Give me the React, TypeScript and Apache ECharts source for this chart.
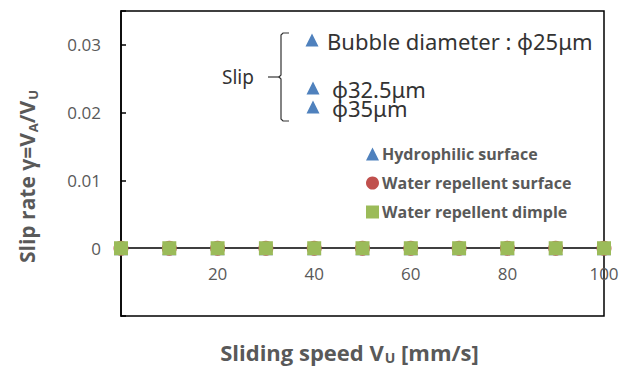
import React, { useEffect, useRef } from "react";
import * as echarts from "echarts";

const speeds = [0, 10, 20, 30, 40, 50, 60, 70, 80, 90, 100];
const hydrophilic = [0, 0, 0, 0, 0, 0, 0, 0, 0, 0, 0];
const waterRepellent = [0, 0, 0, 0, 0, 0, 0, 0, 0, 0, 0];
const waterDimple = [0, 0, 0, 0, 0, 0, 0, 0, 0, 0, 0];
const xTickLabels = [20, 40, 60, 80, 100];
const yTickLabels = [0, 0.01, 0.02, 0.03];
const seriesNames = ["Hydrophilic surface", "Water repellent surface", "Water repellent dimple"];
const bubbleNotes = ["Bubble diameter : ϕ25μm", "ϕ32.5μm", "ϕ35μm"];

const BLUE = "#4F81BD";
const RED = "#C0504D";
const GREEN = "#9BBB59";
const GRAY = "#595959";

function tri(cx: number, cy: number, s: number) {
  return {
    type: "polygon",
    shape: { points: [[cx, cy - s / 2], [cx + s / 2, cy + s / 2], [cx - s / 2, cy + s / 2]] },
    style: { fill: BLUE },
  };
}

function note(text: string, x: number, y: number, size: number) {
  return {
    type: "text",
    x,
    y,
    style: {
      text,
      fontSize: size,
      lineHeight: 18,
      fontFamily: "Noto Sans",
      fill: "#333333",
      verticalAlign: "middle",
      align: "left",
    },
  };
}

export default function App() {
  const ref = useRef<HTMLDivElement>(null);
  useEffect(() => {
    const chart = echarts.init(ref.current!, undefined, { renderer: "svg" });
    const pair = (arr: number[]) => speeds.map((s, i) => [s, arr[i]]);
    const nameRich = (size: number) => ({
      a: { fontSize: size, fontWeight: "bold", color: GRAY, fontFamily: "Open Sans" },
      s: { fontSize: Math.round(size * 0.62), fontWeight: "bold", color: GRAY, fontFamily: "Open Sans", padding: [Math.round(size * 0.5), 0, 0, 1] },
    });
    chart.setOption({
      animation: false,
      backgroundColor: "#ffffff",
      grid: {
        left: 121,
        right: 17,
        top: 11,
        bottom: 51,
        show: true,
        borderColor: "#000000",
        borderWidth: 1.5,
        containLabel: false,
        outerBoundsMode: "none",
      },
      legend: {
        orient: "vertical",
        left: 361,
        top: 140,
        itemWidth: 13,
        itemHeight: 13,
        itemGap: 11,
        textStyle: { fontSize: 16, fontWeight: "bold", color: GRAY, fontFamily: "Open Sans", lineHeight: 18, padding: [0, 0, 0, -2] },
        data: [
          { name: seriesNames[0], icon: "triangle" },
          { name: seriesNames[1], icon: "circle" },
          { name: seriesNames[2], icon: "rect" },
        ],
      },
      xAxis: {
        type: "value",
        min: 0,
        max: 100,
        interval: 20,
        name: "{a|Sliding speed V}{s|U}{a| [mm/s]}",
        nameLocation: "middle",
        nameGap: 23,
        nameTextStyle: { rich: nameRich(22), padding: [0, 26, 0, 0] },
        axisLine: { onZero: true, lineStyle: { color: "#000000", width: 1.5 } },
        axisTick: { show: false },
        splitLine: { show: false },
        axisLabel: {
          margin: -51,
          fontSize: 17,
          color: GRAY,
          fontFamily: "Open Sans",
          formatter: (v: number) => (xTickLabels.includes(v) ? String(v) : ""),
        },
      },
      yAxis: {
        type: "value",
        min: -0.01,
        max: 0.035,
        interval: 0.01,
        name: "{a|Slip rate γ=V}{s|A}{a|/V}{s|U}",
        nameLocation: "middle",
        nameRotate: 90,
        nameGap: 82,
        nameTextStyle: { rich: nameRich(21), padding: [0, 26, 0, 0] },
        axisLine: { show: true, lineStyle: { color: "#000000", width: 1.5 } },
        axisTick: { show: true, inside: true, length: 5, lineStyle: { color: "#000000", width: 1.5 } },
        splitLine: { show: false },
        axisLabel: {
          margin: 20,
          fontSize: 17,
          color: GRAY,
          fontFamily: "Open Sans",
          formatter: (v: number) => {
            const hit = yTickLabels.find((t) => Math.abs(t - v) < 1e-9);
            return hit === undefined ? "" : String(hit);
          },
        },
      },
      graphic: [
        {
          type: "polyline",
          shape: {
            points: [
              [289, 33], [283, 33], [281, 35], [281, 75], [279, 77],
              [281, 79], [281, 119], [283, 121], [289, 121],
            ],
          },
          style: { stroke: "#333333", lineWidth: 1.2, fill: null },
        },
        { type: "line", shape: { x1: 268, y1: 77, x2: 279, y2: 77 }, style: { stroke: "#333333", lineWidth: 1.2 } },
        note("Slip", 222, 77, 19),
        tri(312, 40, 13),
        tri(313, 88, 13),
        tri(313, 107, 13),
        note(bubbleNotes[0], 327, 41, 22),
        note(bubbleNotes[1], 332, 89, 22),
        note(bubbleNotes[2], 332, 108, 22),
      ],
      series: [
        {
          name: seriesNames[0],
          type: "scatter",
          data: pair(hydrophilic),
          symbol: "triangle",
          symbolSize: 14,
          itemStyle: { color: BLUE, opacity: 1 },
          z: 3,
        },
        {
          name: seriesNames[1],
          type: "scatter",
          data: pair(waterRepellent),
          symbol: "circle",
          symbolSize: 15,
          itemStyle: { color: RED, opacity: 1 },
          z: 4,
        },
        {
          name: seriesNames[2],
          type: "scatter",
          data: pair(waterDimple),
          symbol: "rect",
          symbolSize: 14,
          itemStyle: { color: GREEN, opacity: 1 },
          z: 5,
        },
      ],
    });
    return () => chart.dispose();
  }, []);
  return <div ref={ref} style={{ width: 621, height: 367, position: "absolute", left: 0, top: 0 }} />;
}
